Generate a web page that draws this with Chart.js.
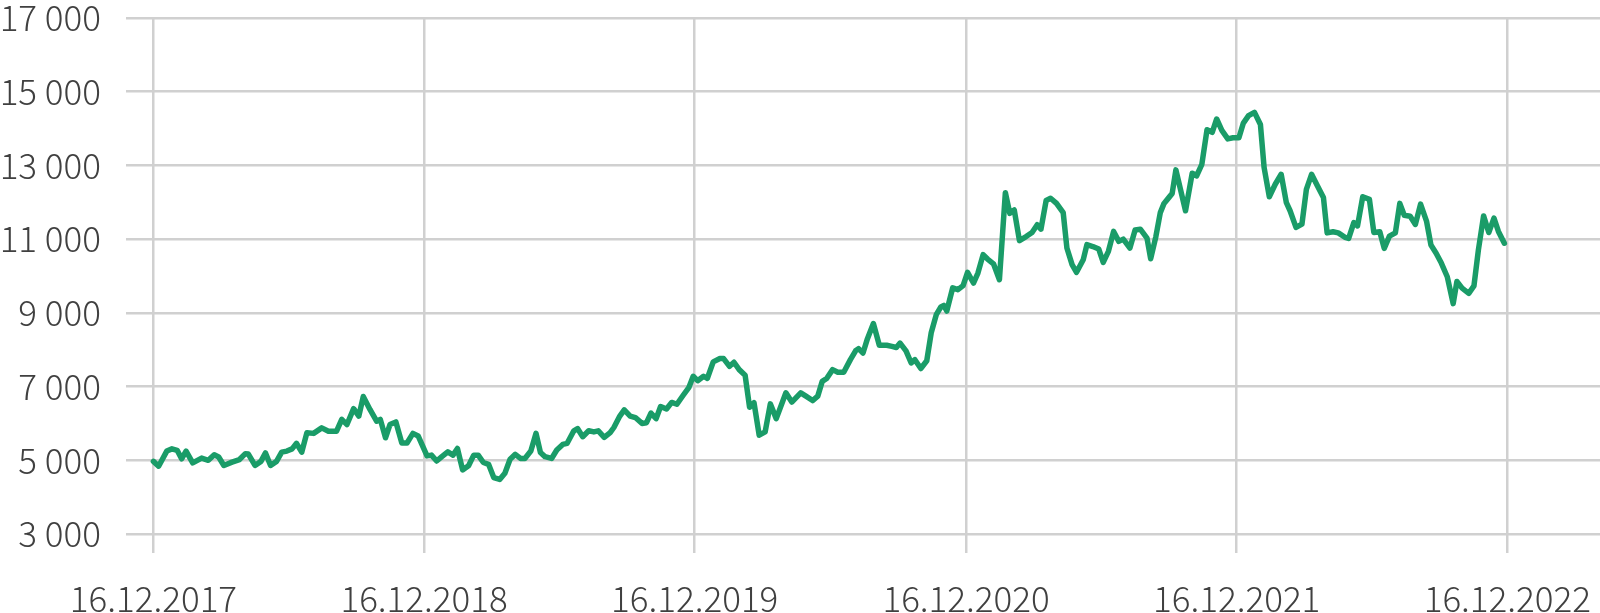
<!DOCTYPE html>
<html>
<head>
<meta charset="utf-8">
<script src="https://cdn.jsdelivr.net/npm/chart.js@4/dist/chart.umd.min.js"></script>
<style>
  html, body { margin: 0; padding: 0; background: #ffffff; }
  #wrap { width: 1600px; height: 613px; }
</style>
</head>
<body>
<div id="wrap"><canvas id="c" width="1600" height="613"></canvas></div>
<script>
// Days since 16.12.2017 for each observation
const days = [0,7,18,25,32,38,44,53,65,74,82,88,95,106,116,124,128,137,145,151,158,166,173,180,187,193,200,207,216,227,236,247,254,261,270,277,283,292,301,306,313,319,327,335,342,350,357,
369,375,382,389,397,404,410,417,425,432,438,445,452,459,467,474,481,488,495,501,509,516,522,528,537,544,552,558,567,572,579,587,594,600,608,616,621,629,635,643,650,659,665,671,678,684,692,699,706,714,722,
728,734,742,747,755,764,769,777,783,790,798,804,810,817,825,832,840,853,861,873,880,889,896,902,908,916,923,931,940,947,951,957,963,971,979,989,996,1002,1007,1015,1022,1027,1035,1043,1049,1056,1062,
1066,1070,1078,1085,1092,1098,1106,1112,1119,1125,1133,1141,1149,1155,1161,1168,1177,1185,1192,1197,1204,1210,1218,1227,1232,1239,1245,1254,1259,1267,1275,1281,1288,1295,1302,1308,1317,1324,1331,1340,1345,1352,1358,1363,1370,1374,
1379,1392,1401,1407,
1414,1421,1428,1434,1441,1449,1456,1464,1470,1477,1485,1493,1498,1505,1513,1521,1528,1533,1541,1549,1555,1562,1570,1578,1583,1591,1598,1607,1612,1619,1624,1631,1640,1646,1654,1660,1667,1675,1681,1687,1695,1702,1709,1717,1723,1730,1737,1745,1753,1758,
1765,1774,1781,1787,1794,1801,1808,1814,1822];

// Index value
const values = [4970,4840,5250,5310,5270,5040,5250,4930,5060,5000,5150,5090,4860,4950,5020,5180,5170,4860,4970,5200,4860,4970,5220,5250,5310,5460,5220,5750,5730,5880,5790,5790,6110,5970,6400,6200,6730,6380,6060,6110,5610,5970,6040,5470,5470,5730,5660,
5120,5140,4980,5100,5230,5140,5320,4740,4850,5140,5140,4940,4890,4530,4480,4650,5030,5160,5050,5050,5250,5730,5210,5100,5050,5280,5430,5460,5800,5860,5640,5800,5770,5800,5620,5750,5890,6200,6370,6200,6160,6000,6020,6280,6130,6460,6390,6570,6520,6750,6970,
7280,7160,7280,7220,7670,7760,7760,7550,7660,7460,7310,6440,6560,5680,5770,6530,6130,6830,6580,6830,6740,6620,6740,7140,7220,7460,7390,7390,7730,7970,8030,7910,8300,8710,8120,8120,8090,8060,8180,7970,7640,7730,7490,7700,8460,8960,9160,
9200,9050,9680,9630,9740,10100,9810,10080,10580,10460,10330,9900,12260,11700,11790,10960,11070,11180,11390,11270,12050,12110,11970,11720,10760,10310,10100,10440,10850,10800,10730,10370,10670,11210,10940,11000,10760,11250,11270,11030,10470,11070,11720,11970,12140,12240,
12880,11770,12790,12720,
13030,13970,13900,14260,13950,13720,13750,13750,14150,14350,14440,14110,12940,12150,12490,12760,11990,11770,11320,11410,12350,12760,12440,12130,11170,11200,11170,11050,11020,11450,11360,12150,12080,11180,11200,10750,11080,11170,11970,11650,11620,11400,11950,11490,10840,10620,10350,9980,9250,9850,
9670,9530,9730,10710,11630,11180,11570,11210,10890];

// X-axis tick positions (days) and their labels
const tickDays = [0, 365, 730, 1096, 1461, 1826];
const tickLabels = ['16.12.2017', '16.12.2018', '16.12.2019', '16.12.2020', '16.12.2021', '16.12.2022'];

// Y-axis range
const yMin = 3000, yMax = 17000, yStep = 2000;

const points = days.map((d, i) => ({ x: d, y: values[i] }));
const FONT = "'Noto Sans CJK SC', 'Noto Sans', sans-serif";
const GRID = '#d0d0d0';

function zeroPadding(scale) {
  scale.paddingTop = 0; scale.paddingBottom = 0;
  scale.paddingLeft = 0; scale.paddingRight = 0;
}

new Chart(document.getElementById('c'), {
  type: 'line',
  data: {
    datasets: [{
      data: points,
      borderColor: '#1a9c68',
      borderWidth: 5.5,
      pointRadius: 0,
      tension: 0,
      borderJoinStyle: 'round',
      borderCapStyle: 'round',
      fill: false
    }]
  },
  options: {
    responsive: false,
    animation: false,
    layout: { padding: { top: 18, right: 0, bottom: 0, left: 0 } },
    plugins: { legend: { display: false }, tooltip: { enabled: false } },
    scales: {
      x: {
        type: 'linear',
        min: -37,
        max: 1951,
        afterBuildTicks: (scale) => { scale.ticks = tickDays.map(v => ({ value: v })); },
        afterFit: (scale) => { scale.height = 79; zeroPadding(scale); },
        grid: { color: GRID, lineWidth: 2.5, drawTicks: true, tickLength: 19, tickColor: GRID },
        border: { display: false },
        ticks: {
          autoSkip: false,
          maxRotation: 0,
          padding: 25,
          color: '#404040',
          font: { family: FONT, size: 35, weight: 300, lineHeight: 1.2 },
          callback: (value, index) => tickLabels[index]
        }
      },
      y: {
        min: yMin,
        max: yMax,
        afterFit: (scale) => { scale.width = 126; zeroPadding(scale); },
        grid: { color: GRID, lineWidth: 2.5, drawTicks: false },
        border: { display: false },
        ticks: {
          stepSize: yStep,
          padding: 25,
          color: '#404040',
          font: { family: FONT, size: 35, weight: 300, lineHeight: 1 },
          callback: (v) => String(v).replace(/\B(?=(\d{3})+(?!\d))/g, ' ')
        }
      }
    }
  }
});
</script>
</body>
</html>
